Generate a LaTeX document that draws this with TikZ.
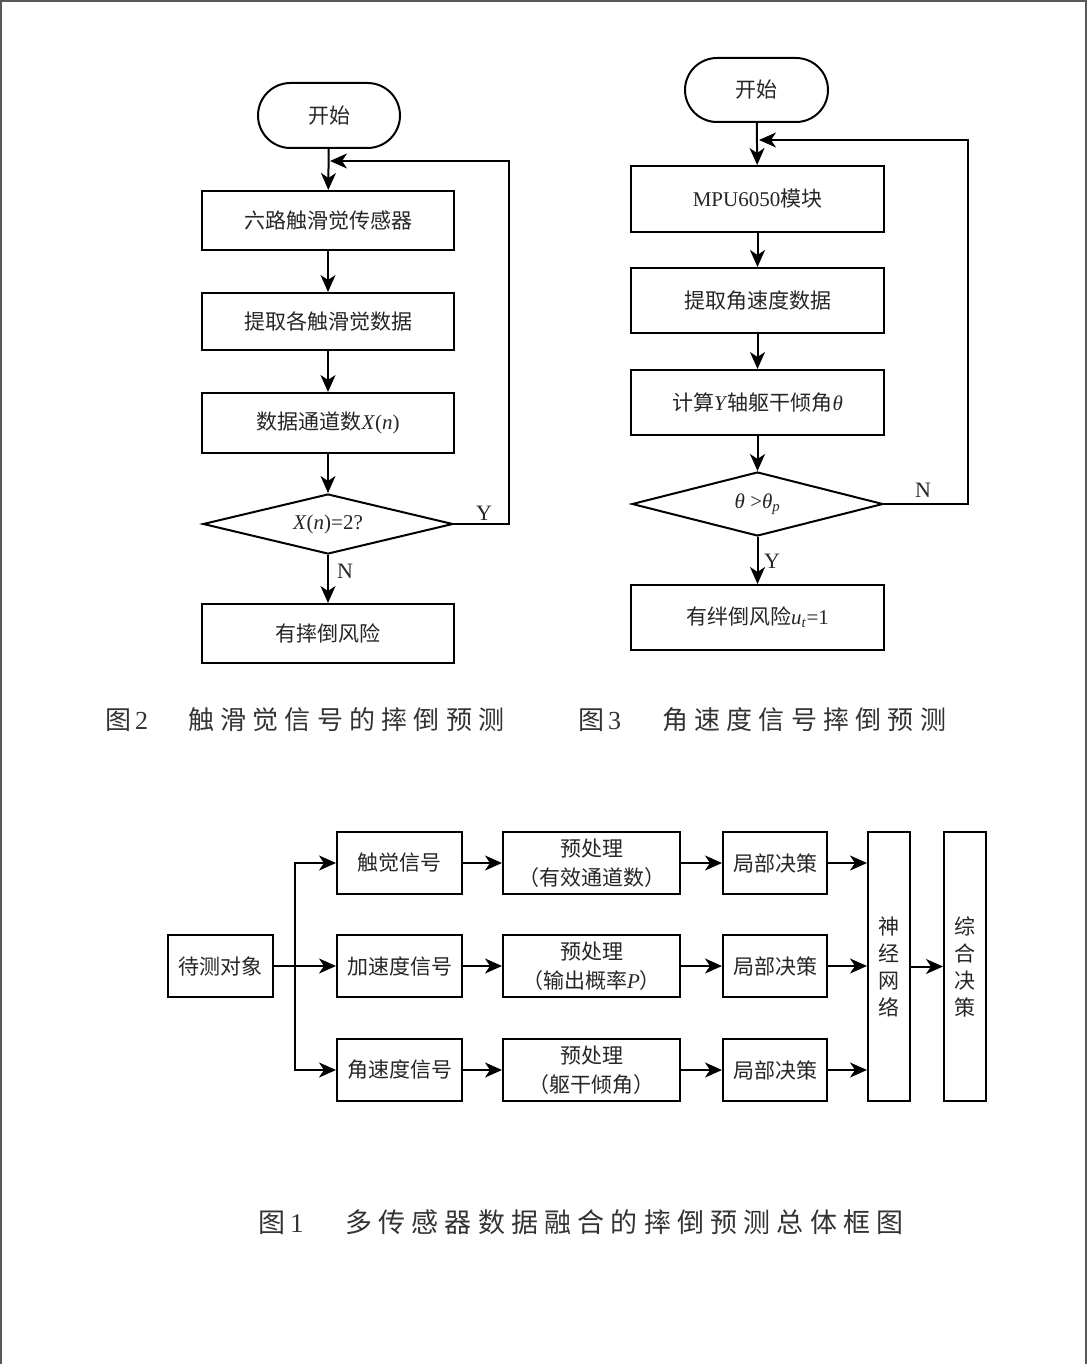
\documentclass[tikz,border=0pt]{standalone}
\usepackage{fontspec}
\setmainfont{Liberation Serif}
\newfontfamily\cjk{Noto Sans CJK SC}
\newfontfamily\capfont[LetterSpace=22]{Noto Sans CJK SC}
\usetikzlibrary{arrows.meta,shapes.geometric,shapes.misc}
\newcommand{\lat}[1]{{\rmfamily #1}}
\begin{document}
\begin{tikzpicture}[x=1pt,y=-1pt,
  txt/.style={font=\fontsize{21}{26}\selectfont\cjk, text=black!85},
  box/.style={draw, line width=2pt, inner sep=0pt, txt},
  term/.style={box, rounded rectangle, minimum width=142pt, minimum height=65pt},
  dia/.style={box, diamond, aspect=4.3, minimum width=250pt, minimum height=60pt},
  lbox/.style={box, minimum width=252pt, minimum height=59pt},
  rbox/.style={box, minimum width=253pt, minimum height=65pt},
  sbox/.style={box, minimum height=62pt},
  vbox/.style={box, minimum width=42pt, minimum height=269pt, align=center, font=\fontsize{21}{27}\selectfont\cjk},
  arr/.style={-{Stealth[length=17pt,width=15pt,inset=5pt]}, line width=2pt},
  ln/.style={line width=2pt},
  yn/.style={font=\fontsize{22}{26}\selectfont\rmfamily, text=black!85, inner sep=0pt},
  captxt/.style={anchor=west, inner sep=0pt, text=black!80, font=\fontsize{26}{30}\selectfont\capfont}
]
\useasboundingbox (0,0) rectangle (1088,1364);
\fill[white] (0,0) rectangle (1088,1364);
\draw[black!65, line width=1.5pt] (1,1364) -- (1,1) -- (1086,1) -- (1086,1364);

% ---------- Fig. 2 (left) ----------
\node[term] (s1) at (329,115.5) {开始};
\node[lbox] (a1) at (328,220.5) {六路触滑觉传感器};
\node[lbox, minimum height=57pt] (a2) at (328,321.5) {提取各触滑觉数据};
\node[lbox, minimum height=60pt] (a3) at (328,423) {数据通道数\lat{\textit{X}(\textit{n})}};
\node[dia] (d1) at (328,524) {\lat{\textit{X}(\textit{n})=2?}};
\node[lbox] (a4) at (328,633.5) {有摔倒风险};
\coordinate (j1) at (330,161);
\coordinate (r1) at (509,161);
\draw[arr] (s1) -- (a1);
\draw[arr] (a1) -- (a2);
\draw[arr] (a2) -- (a3);
\draw[arr] (a3) -- (d1);
\draw[arr] (d1) -- (a4);
\draw[arr] (d1.east) -| (r1) -- (j1);
\node[yn] (y1) at (484,513) {Y};
\node[yn] (n1) at (345,571) {N};

% ---------- Fig. 3 (right) ----------
\node[term, minimum width=143pt, minimum height=64pt] (s2) at (756.5,90) {开始};
\node[rbox, minimum height=66pt] (b1) at (757.5,199) {\lat{MPU6050}模块};
\node[rbox] (b2) at (757.5,300.5) {提取角速度数据};
\node[rbox] (b3) at (757.5,402.5) {计算\lat{\textit{Y}}轴躯干倾角\lat{\textit{θ}}};
\node[dia, minimum width=251pt, minimum height=64pt] (d2) at (757.5,504) {\lat{\textit{θ} >\textit{θ}\textsubscript{\textit{p}}}};
\node[rbox] (b4) at (757.5,617.5) {有绊倒风险\lat{\textit{u}\textsubscript{\textit{t}}=1}};
\coordinate (j2) at (759,140);
\coordinate (r2) at (968,140);
\draw[arr] (s2) -- (b1);
\draw[arr] (b1) -- (b2);
\draw[arr] (b2) -- (b3);
\draw[arr] (b3) -- (d2);
\draw[arr] (d2) -- (b4);
\draw[arr] (d2.east) -| (r2) -- (j2);
\node[yn] (n2) at (923,490) {N};
\node[yn] (y2) at (772,561) {Y};

% ---------- captions ----------
\node[captxt] (c2) at (105,720) {\makebox[83pt][l]{图\hspace{4pt}{\rmfamily 2}}\addfontfeatures{LetterSpace=24}触滑觉信号的摔倒预测};
\node[captxt] (c3) at (578,720) {\makebox[84pt][l]{图\hspace{4pt}{\rmfamily 3}}\addfontfeatures{LetterSpace=24}角速度信号摔倒预测};

% ---------- Fig. 1 (bottom) ----------
\node[sbox, minimum width=105pt] (obj) at (220.5,966) {待测对象};
\node[sbox, minimum width=125pt] (g1) at (399.5,863) {触觉信号};
\node[sbox, minimum width=125pt] (g2) at (399.5,966) {加速度信号};
\node[sbox, minimum width=125pt] (g3) at (399.5,1070) {角速度信号};
\node[sbox, minimum width=177pt, align=center, font=\fontsize{21}{29}\selectfont\cjk] (p1) at (591.5,863) {预处理\\（有效通道数）};
\node[sbox, minimum width=177pt, align=center, font=\fontsize{21}{29}\selectfont\cjk] (p2) at (591.5,966) {预处理\\（输出概率\lat{\textit{P}}）};
\node[sbox, minimum width=177pt, align=center, font=\fontsize{21}{29}\selectfont\cjk] (p3) at (591.5,1070) {预处理\\（躯干倾角）};
\node[sbox, minimum width=104pt] (l1) at (775,863) {局部决策};
\node[sbox, minimum width=104pt] (l2) at (775,966) {局部决策};
\node[sbox, minimum width=104pt] (l3) at (775,1070) {局部决策};
\node[vbox] (nn) at (889,966.5) {神\\经\\网\\络};
\node[vbox] (fin) at (965,966.5) {综\\合\\决\\策};
\coordinate (sp) at (295,966);
\draw[ln] (obj) -- (sp);
\draw[arr] (sp) |- (g1);
\draw[arr] (sp) -- (g2);
\draw[arr] (sp) |- (g3);
\foreach \i in {1,2,3}{
  \draw[arr] (g\i) -- (p\i);
  \draw[arr] (p\i) -- (l\i);
  \draw[arr] (l\i) -- (l\i -| nn.west);
}
\draw[arr] (nn) -- (fin);

\node[captxt, font=\fontsize{27}{30}\selectfont\capfont] (c1) at (258,1222) {\makebox[87pt][l]{图\hspace{5pt}{\rmfamily 1}}\addfontfeatures{LetterSpace=23}多传感器数据融合的摔倒预测总体框图};
\end{tikzpicture}
\end{document}
